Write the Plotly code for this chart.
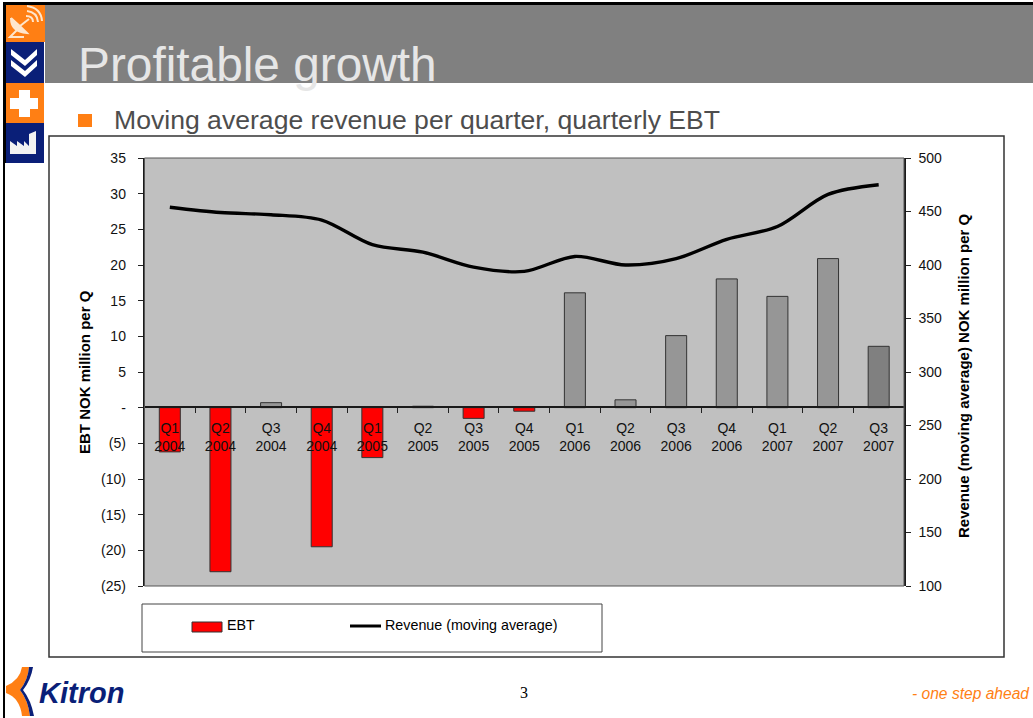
import plotly.graph_objects as go

W, H = 1033, 718

quarters = ["Q1<br>2004", "Q2<br>2004", "Q3<br>2004", "Q4<br>2004",
            "Q1<br>2005", "Q2<br>2005", "Q3<br>2005", "Q4<br>2005",
            "Q1<br>2006", "Q2<br>2006", "Q3<br>2006", "Q4<br>2006",
            "Q1<br>2007", "Q2<br>2007", "Q3<br>2007"]
ebt = [-6.2, -23.0, 0.7, -19.5, -7.0, 0.2, -1.5, -0.5,
       16.1, 1.1, 10.1, 18.05, 15.6, 20.9, 8.6]
revenue = [454, 449, 447, 442, 419, 412, 398, 394,
           408, 400, 406, 424, 436, 466, 475]
bar_colors = ["#ff0000", "#ff0000", "#969696", "#ff0000", "#ff0000", "#969696", "#ff0000", "#ff0000",
              "#969696", "#969696", "#969696", "#969696", "#969696", "#969696", "#808080"]
ebt_ticks = [-25, -20, -15, -10, -5, 0, 5, 10, 15, 20, 25, 30, 35]
ebt_labels = ["(25)", "(20)", "(15)", "(10)", "(5)", "-", "5", "10", "15", "20", "25", "30", "35"]
revenue_ticks = [100, 150, 200, 250, 300, 350, 400, 450, 500]
tick_boundaries = [0.5, 1.5, 2.5, 3.5, 4.5, 5.5, 6.5, 7.5, 8.5, 9.5, 10.5, 11.5, 12.5, 13.5]

FONT = "Liberation Sans"
NAVY = "#0a1f78"
ORANGE = "#ff7f14"
AXIS = "#1a1a1a"
TICK = "#222222"

# plot rectangle on the page, in pixels
PX0, PX1, PY0, PY1 = 144.5, 904, 158, 586
ZERO_Y = 407
TICK_HALF = 5


def fx(px):
    return px / W


def fy(py):
    return 1 - py / H


def rect(x0, y0, x1, y1, fill=None, line=None, width=1, layer="below"):
    return dict(type="rect", xref="paper", yref="paper", layer=layer,
                x0=fx(x0), x1=fx(x1), y0=fy(y0), y1=fy(y1),
                fillcolor=fill if fill else "rgba(0,0,0,0)",
                line=dict(color=line if line else "rgba(0,0,0,0)", width=width if line else 0))


def path(points, fill=None, line=None, width=1, close=True, layer="above"):
    d = "M" + " L".join(f"{fx(x):.5f},{fy(y):.5f}" for x, y in points) + (" Z" if close else "")
    return dict(type="path", xref="paper", yref="paper", layer=layer, path=d,
                fillcolor=fill if fill else "rgba(0,0,0,0)",
                line=dict(color=line if line else "rgba(0,0,0,0)", width=width if line else 0))


def curve(d_points, fill=None, line=None, width=1):
    # d_points: start, then (control, end) pairs of quadratic segments
    d = f"M{fx(d_points[0][0]):.5f},{fy(d_points[0][1]):.5f}"
    for c, e in d_points[1:]:
        d += f" Q{fx(c[0]):.5f},{fy(c[1]):.5f} {fx(e[0]):.5f},{fy(e[1]):.5f}"
    return dict(type="path", xref="paper", yref="paper", layer="above", path=d,
                fillcolor=fill if fill else "rgba(0,0,0,0)",
                line=dict(color=line if line else "rgba(0,0,0,0)", width=width if line else 0))


def label(x, y, text, size, color="#000000", anchor="left", family=FONT, **kw):
    return dict(xref="paper", yref="paper", x=fx(x), y=fy(y), text=text, showarrow=False,
                xanchor=anchor, yanchor="middle", align=anchor,
                font=dict(family=family, size=size, color=color), **kw)


shapes = [
    # slide frame and header band
    rect(3, 2, 1033, 5, fill="#000000"),
    rect(3, 2, 5, 718, fill="#000000"),
    rect(45, 5, 1033, 83, fill="#808080"),
    # chart panel and legend box
    rect(49, 136, 1004, 657, line="#333333", width=1.5),
    rect(142, 604, 602, 652, line="#444444", width=1),
    # plot frame
    rect(PX0, PY0, PX1, PY1, line="#555555", width=1, layer="above"),
    # side icon blocks
    rect(3, 5, 6, 163, fill="#000000", layer="above"),
    rect(6, 5, 45, 42, fill=ORANGE, layer="above"),
    rect(6, 42, 44, 83, fill=NAVY, layer="above"),
    rect(6, 83, 44, 123, fill=ORANGE, layer="above"),
    rect(6, 123, 44, 163, fill=NAVY, layer="above"),
    # bullet
    rect(78, 114, 92, 127, fill=ORANGE, layer="above"),
    # satellite dish
    curve([(11, 18), ((11, 32), (27, 33)), ((20, 26), (11, 18))], fill="#ffe6cc", line="#ffe6cc", width=2),
    path([(17, 30), (10, 37), (24, 37)], line="#ffe6cc", width=2, close=False),
    path([(20, 26), (29, 19)], line="#ffe6cc", width=2, close=False),
    curve([(26, 16), ((33, 16), (33, 22))], line="#ffe6cc", width=2),
    curve([(27, 11), ((37, 12), (38, 22))], line="#ffe6cc", width=2),
    curve([(27, 6), ((41, 8), (42, 21))], line="#ffe6cc", width=2),
    # double chevron
    path([(11, 49), (25, 60), (37, 49), (37, 55), (25, 66), (11, 55)], fill="#ffffff"),
    path([(11, 60), (25, 71), (37, 60), (37, 66), (25, 77), (11, 66)], fill="#ffffff"),
    # plus sign
    path([(19, 90), (30, 90), (30, 98), (38, 98), (38, 109), (30, 109), (30, 117),
          (19, 117), (19, 109), (10, 109), (10, 98), (19, 98)], fill="#ffffff"),
    # factory
    path([(10, 154), (10, 141), (17, 146), (17, 141), (24, 146), (24, 141), (29, 146),
          (29, 134), (36, 131), (36, 154)], fill="#f2f2f2"),
    # logo arcs
    curve([(22, 667), ((20, 680), (6, 686)), ((6, 690), (6, 693)), ((20, 698), (22, 716)),
           ((26, 716), (30, 716)), ((28, 700), (20, 690)), ((28, 680), (29, 667)), ((25, 667), (22, 667))],
          fill=ORANGE),
    curve([(29, 667), ((31, 667), (33, 667)), ((31, 680), (23, 690)), ((31, 700), (34, 716)),
           ((32, 716), (30, 716)), ((28, 700), (20, 690)), ((28, 680), (29, 667))], fill=NAVY),
    # legend swatches
    rect(192, 622, 222, 632, fill="#ff0000", line="#333333", width=1, layer="above"),
    path([(350, 626), (381, 626)], line="#000000", width=3, close=False),
]

annotations = [
    label(76, 65, "Profitable growth", 47.8, color="#e6e6e6"),
    label(112, 120, "Moving average revenue per quarter, quarterly EBT", 26.6, color="#4d4d4d"),
    label(225, 625, "EBT", 14.3),
    label(383, 625, "Revenue (moving average)", 14.3),
    label(524, 692, "3", 16, anchor="center", family="Liberation Serif"),
    label(1032, 693, "<i>- one step ahead</i>", 15.6, color=ORANGE, anchor="right"),
    label(37, 693, "<b><i>Kitron</i></b>", 29, color=NAVY),
    label(85, 372, "<b>EBT NOK million per Q</b>", 15, anchor="center", textangle=-90),
    label(963, 376, "<b>Revenue (moving average) NOK million per Q</b>", 15, anchor="center", textangle=-90),
]

fig = go.Figure()
fig.add_bar(x=quarters, y=ebt, name="EBT", marker=dict(color=bar_colors, line=dict(color="#333333", width=1)),
            xaxis="x", yaxis="y", showlegend=False)
fig.add_scatter(x=quarters, y=revenue, name="Revenue (moving average)", mode="lines",
                line=dict(color="#000000", width=3.4, shape="spline", smoothing=0.9),
                xaxis="x", yaxis="y2", showlegend=False)

# tick marks that cross the axes, drawn as line-shaped markers on each axis scale
tick_marker = dict(color="rgba(0,0,0,0)", size=2 * TICK_HALF, line=dict(color=TICK, width=1))
fig.add_scatter(x=[-0.5] * len(ebt_ticks), y=ebt_ticks, mode="markers", cliponaxis=False, xaxis="x", yaxis="y",
                marker=dict(symbol="line-ew", **tick_marker), showlegend=False, hoverinfo="skip")
fig.add_scatter(x=[14.5] * len(revenue_ticks), y=revenue_ticks, mode="markers", cliponaxis=False, xaxis="x", yaxis="y2",
                marker=dict(symbol="line-ew", **tick_marker), showlegend=False, hoverinfo="skip")
fig.add_scatter(x=tick_boundaries, y=[0] * len(tick_boundaries), mode="markers", cliponaxis=False, xaxis="x", yaxis="y",
                marker=dict(symbol="line-ns", **tick_marker), showlegend=False, hoverinfo="skip")

x_domain = [fx(PX0), fx(PX1)]
y_domain = [fy(PY1), fy(PY0)]
tick_font = dict(family=FONT, size=14, color="#111111")

fig.update_layout(
    width=W, height=H, margin=dict(l=0, r=0, t=0, b=0, autoexpand=False),
    paper_bgcolor="#ffffff", plot_bgcolor="#c0c0c0",
    font=dict(family=FONT), bargap=0.585, showlegend=False,
    shapes=shapes, annotations=annotations,
    xaxis=dict(domain=x_domain, type="category", categoryorder="array", categoryarray=quarters,
               range=[-0.5, len(quarters) - 0.5],
               anchor="free", position=fy(ZERO_Y), showline=True, linecolor=AXIS, linewidth=1.5,
               ticks="outside", tickson="boundaries", ticklen=5, tickcolor=TICK, tickwidth=1,
               ticklabelstandoff=8, tickfont=tick_font, showgrid=False, zeroline=False),
    yaxis=dict(domain=y_domain, range=[-25, 35], tickvals=ebt_ticks, ticktext=ebt_labels,
               anchor="x", side="left", showline=True, linecolor=AXIS, linewidth=1.5,
               ticks="outside", ticklen=5, tickcolor=TICK, ticklabelstandoff=9,
               tickfont=tick_font, showgrid=False, zeroline=False),
    yaxis2=dict(domain=y_domain, range=[100, 500], tickvals=revenue_ticks, overlaying="y",
                anchor="x", side="right", showline=True, linecolor=AXIS, linewidth=1.5,
                ticks="outside", ticklen=5, tickcolor=TICK, ticklabelstandoff=5,
                tickfont=tick_font, showgrid=False, zeroline=False),
)

fig.write_html("out.html")
